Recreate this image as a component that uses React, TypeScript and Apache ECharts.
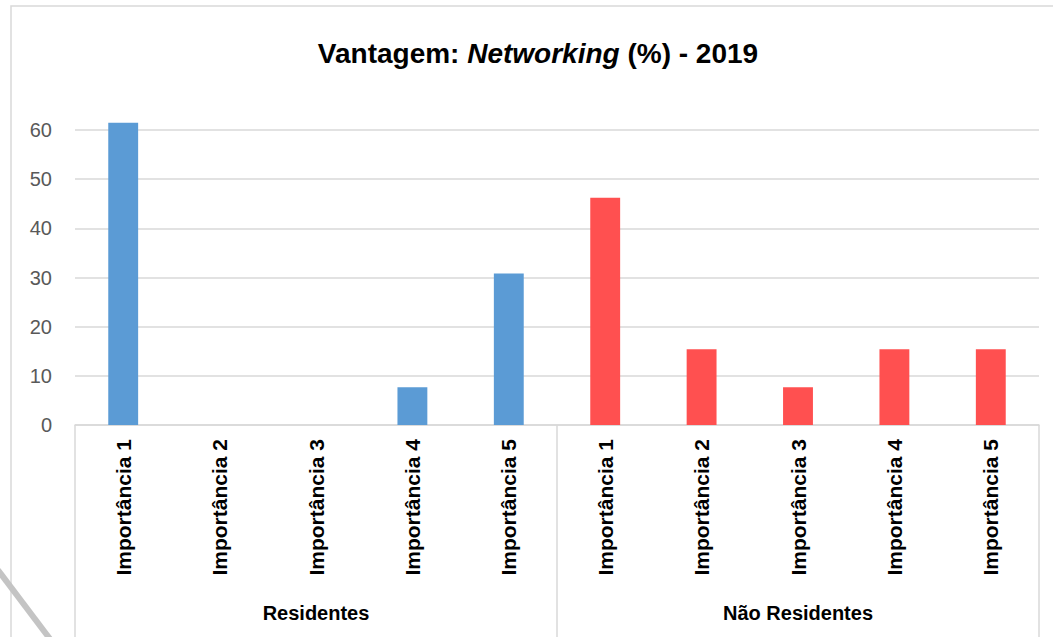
import React, { useEffect, useRef } from "react";
import * as echarts from "echarts";

const categories = [
  "Importância 1", "Importância 2", "Importância 3", "Importância 4", "Importância 5",
  "Importância 1", "Importância 2", "Importância 3", "Importância 4", "Importância 5",
];
const groups = ["Residentes", "Não Residentes"];
const residentes = [61.5, 0, 0, 7.7, 30.8];
const naoResidentes = [46.2, 15.4, 7.7, 15.4, 15.4];
const yTicks = { min: 0, max: 60, interval: 10 };
const titleText = "{b|Vantagem: }{i|Networking}{b| (%) - 2019}";

const FONT = "'Liberation Sans', Arial, sans-serif";

export default function App() {
  const ref = useRef<HTMLDivElement>(null);
  useEffect(() => {
    if (!ref.current) return;
    const chart = echarts.init(ref.current, null, { renderer: "svg" });
    const resData = categories.map((_, i) => (i < 5 ? residentes[i] : "-"));
    const nonData = categories.map((_, i) => (i >= 5 ? naoResidentes[i - 5] : "-"));
    chart.setOption({
      animation: false,
      backgroundColor: "#ffffff",
      grid: { left: 75, right: 14, top: 130, bottom: 212, containLabel: false },
      xAxis: [
        {
          type: "category",
          data: categories,
          position: "bottom",
          axisLine: { show: true, lineStyle: { color: "#d9d9d9", width: 1.5 } },
          axisTick: { show: false },
          axisLabel: {
            interval: 0,
            rotate: 90,
            margin: 14,
            color: "#000000",
            fontWeight: "bold",
            fontSize: 21,
            fontFamily: FONT,
          },
        },
        {
          type: "category",
          data: groups,
          position: "bottom",
          axisLine: { show: false },
          axisTick: { show: true, length: 212, interval: 0, lineStyle: { color: "#d9d9d9", width: 1.5 } },
          axisLabel: {
            interval: 0,
            margin: 178,
            color: "#000000",
            fontWeight: "bold",
            fontSize: 20,
            fontFamily: FONT,
          },
          splitLine: { show: false },
        },
      ],
      yAxis: {
        type: "value",
        min: yTicks.min,
        max: yTicks.max,
        interval: yTicks.interval,
        axisLine: { show: false },
        axisTick: { show: false },
        axisLabel: { color: "#595959", fontSize: 20, fontFamily: FONT, margin: 23 },
        splitLine: { lineStyle: { color: "#d9d9d9", width: 1.5 } },
      },
      series: [
        {
          name: "Residentes",
          type: "bar",
          xAxisIndex: 0,
          data: resData,
          barWidth: "31%",
          barGap: "-100%",
          clip: false,
          itemStyle: { color: "#5B9BD5" },
        },
        {
          name: "Não Residentes",
          type: "bar",
          xAxisIndex: 0,
          data: nonData,
          barWidth: "31%",
          barGap: "-100%",
          clip: false,
          itemStyle: { color: "#FF5050" },
        },
      ],
      graphic: [
        {
          type: "rect",
          shape: { x: 11, y: 6, width: 1100, height: 700 },
          style: { fill: "none", stroke: "#d9d9d9", lineWidth: 1.5 },
          silent: true,
        },
        {
          type: "line",
          shape: { x1: -2, y1: 570, x2: 50, y2: 639 },
          style: { stroke: "#c4c4c4", lineWidth: 6 },
          silent: true,
        },
        {
          type: "text",
          x: 538,
          y: 53,
          style: {
            text: titleText,
            align: "center",
            verticalAlign: "middle",
            rich: {
              b: { fontSize: 28, fontWeight: "bold", fontFamily: FONT, fill: "#000000" },
              i: { fontSize: 28, fontWeight: "bold", fontStyle: "italic", fontFamily: FONT, fill: "#000000" },
            },
          },
        },
      ],
    });
    return () => chart.dispose();
  }, []);
  return (
    <div
      ref={ref}
      style={{ position: "fixed", left: 0, top: 0, width: 1053, height: 637, background: "#fff" }}
    />
  );
}
